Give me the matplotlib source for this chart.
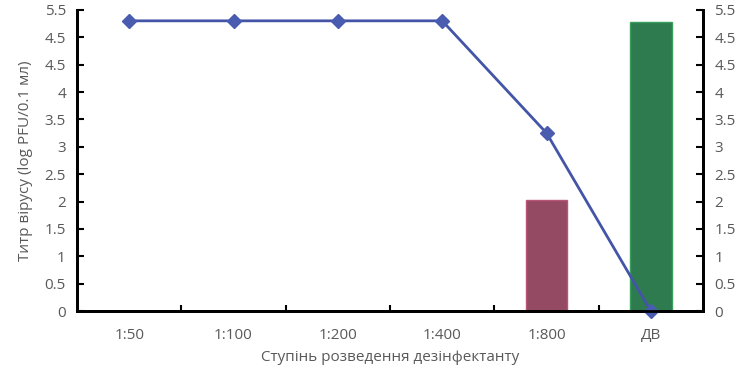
import matplotlib.pyplot as plt
import numpy as np

# data
categories = ['1:50', '1:100', '1:200', '1:400', '1:800', 'ДВ']
titer_line = [5.3, 5.3, 5.3, 5.3, 3.25, 0]
bar_cats = ['1:800', 'ДВ']
bar_values = [2.02, 5.28]
bar_colors = ['#944A63', '#2E7B4F']
bar_edges = ['#B8567A', '#3A9E5C']
yticks = [0, 0.5, 1, 1.5, 2, 2.5, 3, 3.5, 4, 4.5, 5, 5.5]
ytick_labels = ['0', '0.5', '1', '1.5', '2', '2.5', '3', '3.5', '4', '4.5', '4.5', '5.5']

text_color = '#595959'
plt.rcParams['font.family'] = ['Open Sans', 'DejaVu Sans']

fig = plt.figure(figsize=(7.44, 3.66), dpi=100)
ax = fig.add_axes([0.1035, 0.150, 0.8415, 0.823])

x = np.arange(len(categories))
bx = [categories.index(c) for c in bar_cats]
ax.bar(bx, bar_values, width=0.4, color=bar_colors, edgecolor=bar_edges, linewidth=1, zorder=2)
ax.plot(x, titer_line, color='#4455A8', linewidth=2, marker='D', markersize=7,
        markerfacecolor='#4A5CB0', markeredgecolor='#4A5CB0', zorder=3, clip_on=False)

ax.set_xlim(-0.5, 5.5)
ax.set_ylim(0, 5.5)
ax.set_xticks(x)
ax.set_xticklabels(categories)
ax.set_xticks(np.arange(0.5, 5.0, 1), minor=True)
ax.tick_params(axis='x', which='major', length=0, pad=12, labelsize=11, labelcolor=text_color)
ax.tick_params(axis='x', which='minor', direction='in', length=4, width=1.5)
ax.set_yticks(yticks)
ax.set_yticklabels(ytick_labels)
ax.tick_params(axis='y', direction='in', length=5, width=1.5, labelsize=11, labelcolor=text_color, pad=8)

ax2 = ax.twinx()
ax2.set_ylim(0, 5.5)
ax2.set_yticks(yticks)
ax2.set_yticklabels(ytick_labels)
ax2.tick_params(axis='y', direction='in', length=5, width=1.5, labelsize=11, labelcolor=text_color, pad=8)

for a in (ax, ax2):
    a.spines['top'].set_visible(False)
    for s in ('left', 'right', 'bottom'):
        a.spines[s].set_linewidth(2)
        a.spines[s].set_color('black')

ax.set_xlabel('Ступінь розведення дезінфектанту', color=text_color, fontsize=11, labelpad=5)
ax.set_ylabel('Титр вірусу (log PFU/0.1 мл)', color=text_color, fontsize=11, labelpad=8)

plt.savefig('out.png', dpi=100)
